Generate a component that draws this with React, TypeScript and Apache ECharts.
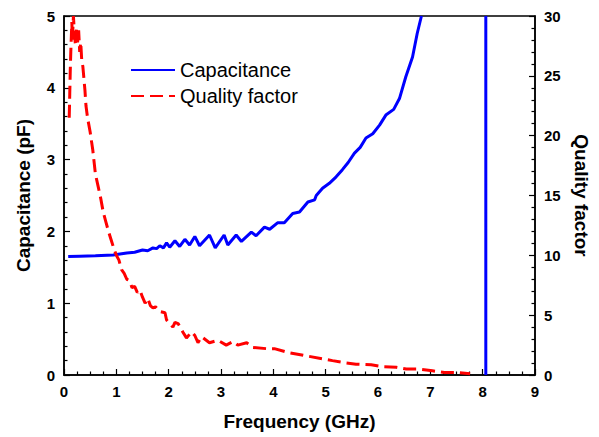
import React, { useEffect, useRef } from "react";
import * as echarts from "echarts";

const xTicks = [0, 1, 2, 3, 4, 5, 6, 7, 8, 9];
const capTicks = [0, 1, 2, 3, 4, 5];
const qTicks = [0, 5, 10, 15, 20, 25, 30];

// Capacitance (pF) vs frequency (GHz)
const capFreq = [0.08, 0.3, 0.6, 0.94, 1.2, 1.35, 1.5, 1.6, 1.7, 1.77, 1.83, 1.9, 1.96, 2.02, 2.12, 2.21, 2.31, 2.4, 2.5, 2.59, 2.78, 2.89, 3.06, 3.13, 3.29, 3.39, 3.58, 3.67, 3.83, 3.93, 4.08, 4.21, 4.37, 4.5, 4.66, 4.79, 4.82, 4.94, 5.07, 5.2, 5.32, 5.43, 5.55, 5.66, 5.77, 5.9, 6.03, 6.15, 6.3, 6.41, 6.53, 6.66, 6.75, 6.83];
const capValues = [1.65, 1.655, 1.66, 1.67, 1.7, 1.71, 1.74, 1.73, 1.77, 1.76, 1.8, 1.77, 1.84, 1.78, 1.87, 1.79, 1.89, 1.81, 1.93, 1.8, 1.95, 1.77, 1.95, 1.81, 1.95, 1.86, 1.99, 1.94, 2.06, 2.03, 2.12, 2.12, 2.25, 2.27, 2.41, 2.44, 2.5, 2.6, 2.67, 2.76, 2.86, 2.96, 3.09, 3.17, 3.3, 3.36, 3.48, 3.62, 3.7, 3.85, 4.15, 4.43, 4.76, 5.0];
// resonance: vertical line
const resonanceFreq = [8.06, 8.06];
const resonanceCap = [0, 5];

// Quality factor vs frequency (GHz)
const qFreq = [0.1, 0.11, 0.12, 0.13, 0.15, 0.16, 0.18, 0.2, 0.22, 0.24, 0.26, 0.28, 0.3, 0.32, 0.34, 0.36, 0.38, 0.4, 0.42, 0.45, 0.5, 0.55, 0.6, 0.65, 0.7, 0.75, 0.8, 0.85, 0.9, 0.95, 1.0, 1.05, 1.1, 1.15, 1.2, 1.25, 1.3, 1.35, 1.4, 1.45, 1.5, 1.55, 1.6, 1.65, 1.7, 1.75, 1.83, 1.93, 1.96, 2.02, 2.08, 2.12, 2.18, 2.27, 2.34, 2.44, 2.5, 2.56, 2.63, 2.78, 2.94, 3.1, 3.23, 3.32, 3.49, 3.61, 3.87, 4.02, 4.31, 4.63, 4.95, 5.13, 5.39, 5.58, 5.87, 6.08, 6.35, 6.54, 6.79, 7.04, 7.27, 7.52, 7.76];
const qValues = [21.5, 23.5, 25.5, 27, 29.5, 28, 30, 28.5, 27.5, 29, 27.8, 28.8, 27, 27.8, 26.2, 25.8, 24.8, 23.8, 22.5, 21.5, 20.3, 18.8, 16.8, 15.8, 14.8, 13.6, 12.8, 12.0, 11.3, 10.6, 10.0, 9.6, 8.8, 8.5, 8.0, 7.9, 7.3, 7.4, 6.9, 7.1, 6.5, 6.0, 6.4, 5.8, 5.6, 5.7, 5.3, 5.2, 4.6, 4.3, 4.0, 4.4, 4.3, 3.6, 3.1, 3.6, 3.3, 2.7, 3.2, 2.7, 2.9, 2.5, 2.8, 2.5, 2.7, 2.3, 2.2, 2.2, 1.85, 1.6, 1.35, 1.2, 1.0, 0.9, 0.85, 0.7, 0.65, 0.5, 0.5, 0.35, 0.2, 0.2, 0.1];

const FONT = 'Arial, "Liberation Sans", sans-serif';

export default function App() {
  const ref = useRef<HTMLDivElement>(null);
  useEffect(() => {
    document.body.style.margin = "0";
    const chart = echarts.init(ref.current!, null, { renderer: "svg" });
    const capData: any[] = capFreq.map((f, i) => [f, capValues[i]]);
    capData.push([7.5, null]);
    resonanceFreq.forEach((f, i) => capData.push([f, resonanceCap[i]]));
    const qData = qFreq.map((f, i) => [f, qValues[i]]);
    const axisLine = { show: true, lineStyle: { color: "#000", width: 1.5 } };
    const labelStyle = { color: "#000", fontSize: 15, fontWeight: "bold" as const, fontFamily: FONT };
    const nameStyle = { color: "#000", fontSize: 19, fontWeight: "bold" as const, fontFamily: FONT };
    const tick = { show: true, inside: true, length: 6, lineStyle: { color: "#000", width: 1.2 } };
    chart.setOption({
      animation: false,
      backgroundColor: "#fff",
      grid: { left: 64, right: 63, top: 16, bottom: 62, show: true, borderColor: "#000", borderWidth: 1.5, backgroundColor: "transparent" },
      legend: {
        left: 130,
        top: 60,
        orient: "vertical",
        padding: 0,
        itemWidth: 44,
        itemHeight: 19,
        itemGap: 6,
        itemStyle: { opacity: 0 },
        textStyle: { color: "#000", fontSize: 20, fontFamily: FONT },
        data: ["Capacitance", "Quality factor"],
      },
      xAxis: {
        type: "value",
        min: xTicks[0],
        max: xTicks[xTicks.length - 1],
        interval: 1,
        name: "Frequency (GHz)",
        nameLocation: "middle",
        nameGap: 37,
        nameTextStyle: nameStyle,
        axisLine,
        axisTick: tick,
        minorTick: { show: true, splitNumber: 4, length: 3.5, lineStyle: { color: "#000", width: 1.2 } },
        axisLabel: { ...labelStyle, margin: 9 },
        splitLine: { show: false },
      },
      yAxis: [
        {
          type: "value",
          min: capTicks[0],
          max: capTicks[capTicks.length - 1],
          interval: 1,
          name: "Capacitance (pF)",
          nameLocation: "middle",
          nameGap: 31,
          nameTextStyle: nameStyle,
          axisLine,
          axisTick: tick,
          minorTick: { show: true, splitNumber: 5, length: 3.5, lineStyle: { color: "#000", width: 1.2 } },
          axisLabel: { ...labelStyle, margin: 9 },
          splitLine: { show: false },
        },
        {
          type: "value",
          position: "right",
          min: qTicks[0],
          max: qTicks[qTicks.length - 1],
          interval: 5,
          name: "Quality factor",
          nameLocation: "middle",
          nameRotate: -90,
          nameGap: 37,
          nameTextStyle: nameStyle,
          axisLine,
          axisTick: tick,
          minorTick: { show: true, splitNumber: 5, length: 3.5, lineStyle: { color: "#000", width: 1.2 } },
          axisLabel: { ...labelStyle, margin: 9 },
          splitLine: { show: false },
        },
      ],
      series: [
        {
          name: "Capacitance",
          type: "line",
          yAxisIndex: 0,
          data: capData,
          symbol: "none",
          showSymbol: false,
          connectNulls: false,
          lineStyle: { color: "#0000ff", width: 3 },
          itemStyle: { color: "#0000ff" },
          clip: true,
        },
        {
          name: "Quality factor",
          type: "line",
          yAxisIndex: 1,
          data: qData,
          symbol: "none",
          showSymbol: false,
          lineStyle: { color: "#ff0000", width: 3, type: [13, 6] },
          itemStyle: { color: "#ff0000" },
          clip: true,
        },
      ],
    });
    return () => chart.dispose();
  }, []);
  return <div ref={ref} style={{ width: 599, height: 437 }} />;
}
